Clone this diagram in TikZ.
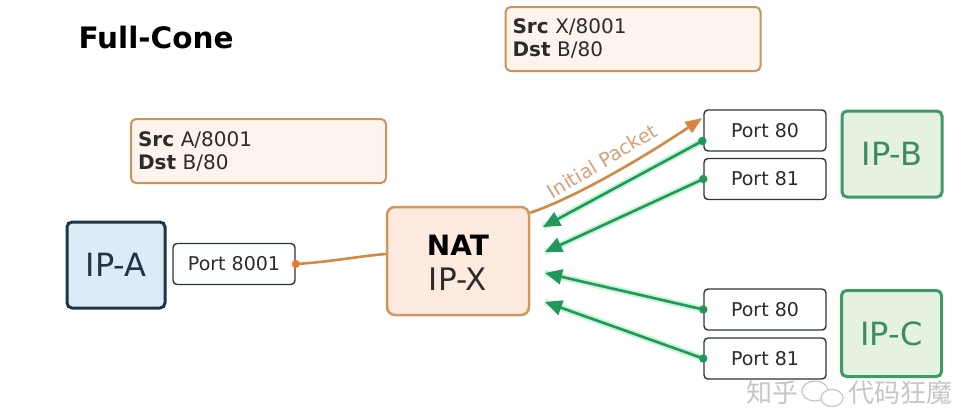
\documentclass[tikz,border=0pt]{standalone}
\usepackage{fontspec}
\setmainfont{DejaVu Sans}
\newfontfamily\cjk{Noto Sans CJK SC}
\usetikzlibrary{arrows.meta,calc}
\definecolor{srcfill}{HTML}{FDF4EE}
\definecolor{srcdraw}{HTML}{C9955C}
\definecolor{ipafill}{HTML}{DCEBF5}
\definecolor{ipadraw}{HTML}{1E3646}
\definecolor{portdraw}{HTML}{2A363C}
\definecolor{natfill}{HTML}{FCEADF}
\definecolor{natdraw}{HTML}{D2975A}
\definecolor{ipgfill}{HTML}{E5F1E1}
\definecolor{ipgdraw}{HTML}{3E9A66}
\definecolor{ipgtext}{HTML}{3C8C5E}
\definecolor{garrow}{HTML}{21985A}
\definecolor{gglow}{HTML}{C6F4D6}
\definecolor{oline}{HTML}{D08A45}
\definecolor{otip}{HTML}{E87A2C}
\definecolor{olabel}{HTML}{D6A27A}
\definecolor{txt}{HTML}{2B2B2B}
\tikzset{
  srcbox/.style={draw=srcdraw, fill=srcfill, line width=2pt, rounded corners=5pt,
    minimum width=255pt, minimum height=64pt, text width=241pt, align=left,
    inner sep=0pt, font=\fontsize{20}{23}\selectfont, text=txt},
  portbox/.style={draw=portdraw, fill=white, line width=1.4pt, rounded corners=4pt,
    minimum width=122pt, minimum height=41pt, inner sep=0pt,
    font=\fontsize{19}{22}\selectfont, text=txt},
  ipabox/.style={draw=ipadraw, fill=ipafill, line width=3pt, rounded corners=5pt,
    minimum width=98pt, minimum height=86pt, inner sep=0pt,
    font=\fontsize{32}{36}\selectfont, text=ipadraw},
  ipgbox/.style={draw=ipgdraw, fill=ipgfill, line width=3pt, rounded corners=5pt,
    minimum width=100pt, minimum height=86pt, inner sep=0pt,
    font=\fontsize{32}{36}\selectfont, text=ipgtext},
  natbox/.style={draw=natdraw, fill=natfill, line width=2.5pt, rounded corners=8pt,
    minimum width=142pt, minimum height=108pt, inner sep=0pt},
  garr/.style={draw=garrow, line width=2.6pt,
    -{Triangle[length=17pt,width=15pt]},
    preaction={draw=gglow, line width=6.5pt, -}},
  oarr/.style={draw=oline, line width=2.6pt},
  gdot/.style={fill=garrow},
}
\begin{document}
\begin{tikzpicture}[x=1pt,y=-1pt]
\useasboundingbox (0,0) rectangle (977,416);
\fill[white] (0,0) rectangle (977,416);

\node[anchor=base west, font=\fontsize{29.5}{34}\selectfont\bfseries, text=black] (title) at (75,48) {Full-Cone};

\node[srcbox] (srca) at (258.5,151) {\textbf{Src} A/8001\\\textbf{Dst} B/80};
\node[srcbox] (srcx) at (633,39) {\textbf{Src} X/8001\\\textbf{Dst} B/80};

\node[ipabox] (ipa) at (116,265) {IP-A};
\node[portbox] (p8001) at (234,264) {Port 8001};

\node[natbox] (nat) at (458,261) {};
\node[anchor=base, font=\fontsize{28}{32}\selectfont\bfseries, text=black] (natt) at (458,255) {NAT};
\node[anchor=base, font=\fontsize{31}{35}\selectfont, text=txt] (natip) at (458,290) {IP-X};

\node[portbox] (p80b) at (765,130.5) {Port 80};
\node[portbox] (p81b) at (765,179) {Port 81};
\node[ipgbox] (ipb) at (892,154) {IP-B};

\node[portbox] (p80c) at (765,309.5) {Port 80};
\node[portbox] (p81c) at (765,358.5) {Port 81};
\node[ipgbox] (ipc) at (891.5,333.5) {IP-C};

% orange link from Port 8001 to NAT
\coordinate (o1) at (p8001.east);
\coordinate (o2) at ($(nat.west)+(0,-7)$);
\draw[oarr] (o1) .. controls (330,262) and (360,256) .. (o2);
\fill[otip] (o1) circle (4pt);

% initial packet arrow
\coordinate (o3) at ($(nat.north east)+(0,7)$);
\coordinate (o4) at ($(p80b.west)+(-1,-12.5)$);
\draw[oarr, -{Triangle[length=17pt,width=13pt,fill=otip]}, draw=oline]
  (o3) .. controls (580,196) and (655,150) .. (o4);
\node[rotate=31, font=\fontsize{19.5}{22}\selectfont, text=olabel] (ilabel) at (602,161) {Initial Packet};

% green return arrows
\coordinate (t1) at (543,227);
\coordinate (t2) at (545,252);
\coordinate (t3) at (545,273);
\coordinate (t4) at (545,302);
\coordinate (d1) at ($(p80b.west)+(-1,10.5)$);
\coordinate (d2) at (p81b.west);
\coordinate (d3) at (p80c.west);
\coordinate (d4) at (p81c.west);
\draw[garr] (d1) -- (t1);
\draw[garr] (d2) -- (t2);
\draw[garr] (d3) -- (t3);
\draw[garr] (d4) -- (t4);
\foreach \d in {d1,d2,d3,d4} \fill[gdot] (\d) circle (4.2pt);

% watermark
\node[anchor=west, font=\cjk\fontsize{26}{30}\selectfont, text=gray!45] (wm1) at (743,393) {知乎};
\draw[gray!45, line width=1.2pt] (815,391) ellipse (13pt and 10pt);
\draw[gray!45, line width=1.2pt, fill=white] (832,398) ellipse (11pt and 8.5pt);
\node[anchor=west, font=\cjk\fontsize{26}{30}\selectfont, text=gray!45] (wm2) at (845,393) {代码狂魔};
\end{tikzpicture}
\end{document}
